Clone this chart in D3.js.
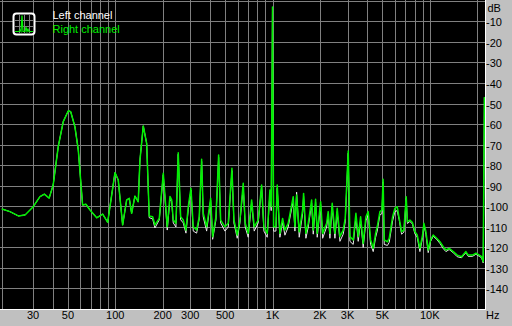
<!DOCTYPE html>
<html><head><meta charset="utf-8">
<script src="https://cdn.jsdelivr.net/npm/d3@7"></script>
<style>html,body{margin:0;padding:0;background:#c0c0c0;overflow:hidden}</style>
</head><body><svg id="c" width="512" height="326"></svg>
<script>
// ---- data ----
const freqs = [19.0,21.4,24.2,26.7,30.1,33.2,35.4,38.0,40.3,43.4,
46.7,50.3,52.1,55.4,58.2,62.0,65.1,69.1,76.2,83.2,
89.5,94.9,99.6,104.5,111.4,118.2,122.8,127.1,133.4,140.0,
143.6,150.7,158.4,164.5,172.9,178.8,190.5,202.0,214.1,222.7,
228.4,233.8,243.2,251.5,260.5,270.6,281.6,291.2,302.9,313.3,
329.3,342.0,354.2,362.6,381.2,404.2,416.2,436.8,454.3,467.8,
498.3,523.0,552.0,568.4,596.5,620.5,651.2,670.5,700.7,736.4,
764.9,811.1,852.4,881.6,925.4,962.7,981,1000,1016,1051,
1071,1114,1159,1199,1258,1354,1388,1423,1478,1554,
1576,1630,1687,1773,1815,1879,1924,2023,2083,2208,
2260,2317,2396,2493,2578,2682,2815,2899,3029,3105,
3259,3390,3506,3632,3772,3925,4059,4204,4368,4524,
4631,4818,4961,5049,5131,5378,5520,5802,5999,6205,
6389,6617,6844,7079,7204,7472,7751,8040,8315,8651,
9000,9173,9446,9768,10120,10510,11050,11600,12170,12660,
13280,14090,14940,15930,16970,17540,18710,19640,20620,21350,
21860,22250];

const rightDb = [-101.2,-102.5,-104.6,-104.1,-100.1,-95.2,-94.0,-95.9,-89.5,-70.8,
-58.6,-53.3,-53.8,-61.1,-72.4,-99.3,-98.9,-101.7,-105.5,-103.7,
-107.7,-94.4,-83.5,-87.1,-109.0,-96.8,-96.0,-103.3,-94.9,-97.7,
-77.3,-60.7,-69.2,-104.6,-105.0,-109.0,-105.8,-83.8,-109.9,-95.1,
-96.8,-106.6,-108.2,-73.8,-105.0,-106.6,-111.5,-100.1,-91.1,-109.9,
-111.5,-105.0,-77.0,-103.3,-109.9,-96.0,-114.7,-105.0,-74.9,-106.6,
-109.9,-108.2,-81.4,-106.6,-113.9,-106.6,-88.7,-108.2,-113.1,-96.8,
-109.9,-106.6,-89.5,-109.9,-113.1,-92.0,-100.0,-2.7,-109.9,-109.9,
-89.5,-113.1,-105.8,-111.5,-108.2,-95.2,-109.9,-94.4,-112.3,-101.7,
-93.6,-113.1,-108.2,-96.8,-111.5,-96.5,-113.1,-97.7,-113.1,-108.2,
-102.5,-113.1,-98.4,-113.1,-100.9,-114.7,-111.5,-105.8,-72.9,-114.7,
-116.3,-103.3,-114.7,-105.0,-118.0,-105.0,-102.5,-116.3,-120.4,-113.1,
-109.9,-102.5,-101.7,-86.7,-116.3,-117.2,-115.5,-105.0,-100.9,-100.1,
-105.8,-112.3,-111.5,-95.2,-107.4,-106.6,-107.8,-112.3,-113.9,-120.4,
-113.9,-108.2,-112.3,-121.2,-116.3,-113.9,-115.5,-117.2,-119.6,-121.2,
-120.4,-122.0,-123.7,-124.5,-122.0,-123.7,-123.7,-122.8,-123.7,-124.5,
-126.9,-46.6];

const leftDb = [-101.2,-102.5,-104.6,-104.1,-100.1,-95.2,-94.0,-95.9,-89.5,-70.8,
-58.6,-53.3,-53.8,-61.1,-72.4,-99.3,-98.9,-101.7,-105.5,-103.7,
-107.7,-94.4,-83.5,-87.1,-109.0,-96.8,-96.0,-103.3,-94.9,-97.7,
-77.3,-60.7,-69.2,-105.5,-106.0,-110.5,-106.5,-84.5,-111.5,-96.5,
-97.5,-108.0,-110.0,-74.5,-106.5,-108.0,-113.0,-101.5,-92.0,-112.0,
-113.0,-106.0,-78.0,-105.0,-112.0,-97.0,-116.0,-106.5,-76.0,-108.0,
-112.0,-110.0,-82.5,-108.0,-115.5,-108.0,-90.0,-110.0,-115.0,-98.0,
-112.0,-108.0,-90.5,-112.0,-115.0,-93.0,-102.0,-3.0,-112.0,-112.0,
-91.0,-115.0,-107.5,-114.0,-110.0,-97.0,-112.0,-93.0,-115.0,-103.5,
-95.0,-115.5,-110.0,-98.5,-113.5,-98.0,-115.0,-99.0,-115.5,-110.0,
-104.0,-115.5,-100.0,-115.5,-102.5,-117.0,-113.5,-107.5,-74.0,-117.0,
-118.5,-105.0,-117.0,-107.0,-120.0,-107.0,-104.0,-118.5,-122.0,-115.0,
-112.0,-104.0,-103.5,-88.0,-118.5,-119.0,-117.5,-107.0,-102.5,-102.0,
-106.5,-113.5,-112.5,-96.0,-108.3,-107.3,-108.5,-113.3,-115.0,-122.0,
-115.0,-109.0,-113.5,-122.5,-117.0,-114.5,-116.0,-118.0,-120.5,-122.0,
-121.0,-122.5,-124.5,-125.0,-122.5,-124.3,-124.3,-123.3,-124.3,-125.0,
-127.5,-47.0];

const seriesNames = ["Left channel", "Right channel"];
const seriesColors = ["#e6e6e6", "#00f000"];
const gridFreqs = [30,40,50,60,70,80,90,100,200,300,400,500,600,700,800,900,
  1000,2000,3000,4000,5000,6000,7000,8000,9000,10000,20000];
const tickFreqs = [30,50,100,200,300,500,1000,2000,3000,5000,10000];
const tickLabels = ["30","50","100","200","300","500","1K","2K","3K","5K","10K"];
const dbGrid = [0,-10,-20,-30,-40,-50,-60,-70,-80,-90,-100,-110,-120,-130,-140];
const dbTicks = [-10,-20,-30,-40,-50,-60,-70,-80,-90,-100,-110,-120,-130,-140];

// ---- drawing ----
const W = 512, H = 326;
const PW = 485, PH = 309;
const svg = d3.select("#c");
const FONT = "'Liberation Sans', Arial, sans-serif";

const x = d3.scaleLog().domain([19.05, 22440]).range([2, PW]);
const y = d3.scaleLinear().domain([0, -150]).range([1.5, PH]);

svg.append("rect").attr("width", W).attr("height", H).attr("fill", "#c0c0c0");
svg.append("rect").attr("x", 0).attr("y", 0).attr("width", PW).attr("height", PH).attr("fill", "#000");

const grid = svg.append("g").attr("stroke", "#808080").attr("stroke-width", 1);
grid.selectAll("line.v").data(gridFreqs).join("line").attr("class", "v")
  .attr("x1", d => Math.round(x(d)) + 0.5).attr("x2", d => Math.round(x(d)) + 0.5)
  .attr("y1", 0).attr("y2", PH);
grid.selectAll("line.h").data(dbGrid).join("line").attr("class", "h")
  .attr("x1", 0).attr("x2", PW)
  .attr("y1", d => Math.floor(y(d)) + 0.5).attr("y2", d => Math.floor(y(d)) + 0.5);
grid.append("line").attr("x1", 2.5).attr("x2", 2.5).attr("y1", 0).attr("y2", PH);

svg.append("clipPath").attr("id", "pc").append("rect")
  .attr("x", 0).attr("y", 0).attr("width", PW).attr("height", PH);

const line = d3.line().x(d => x(d.f)).y(d => y(d.v));
const series = [leftDb, rightDb].map((vals, i) => ({
  name: seriesNames[i], color: seriesColors[i],
  pts: freqs.map((f, j) => ({f, v: vals[j]}))
}));
svg.append("g").attr("clip-path", "url(#pc)")
  .selectAll("path").data(series).join("path")
  .attr("d", d => line(d.pts))
  .attr("fill", "none")
  .attr("stroke", d => d.color)
  .attr("stroke-width", (d, i) => i === 0 ? 1 : 1.5)
  .attr("stroke-linejoin", "round");

// white border
svg.append("line").attr("x1", PW + 0.5).attr("x2", PW + 0.5).attr("y1", 0).attr("y2", PH + 1)
  .attr("stroke", "#fff");
svg.append("line").attr("x1", 0).attr("x2", PW + 1).attr("y1", PH + 0.5).attr("y2", PH + 0.5)
  .attr("stroke", "#fff");

// x tick labels
svg.append("g").selectAll("text").data(tickFreqs).join("text")
  .attr("x", d => x(d)).attr("y", 319)
  .attr("text-anchor", "middle")
  .attr("font-family", FONT).attr("font-size", 11).attr("fill", "#000")
  .text((d, i) => tickLabels[i]);
svg.append("text").attr("x", 486).attr("y", 319)
  .attr("font-family", FONT).attr("font-size", 11).attr("fill", "#000").text("Hz");

// y tick labels
svg.append("g").selectAll("text").data(dbTicks).join("text")
  .attr("x", 486).attr("y", d => Math.floor(y(d)) + 4.5)
  .attr("font-family", FONT).attr("font-size", 11).attr("fill", "#000")
  .text(d => String(d));
svg.append("text").attr("x", 487.5).attr("y", 11.5)
  .attr("font-family", FONT).attr("font-size", 11).attr("fill", "#000").text("dB");

// legend
const lg = svg.append("g");
lg.append("rect").attr("x", 13.5).attr("y", 13.5).attr("width", 21).attr("height", 21)
  .attr("rx", 3).attr("fill", "#000").attr("stroke", "#fff").attr("stroke-width", 2);
const ig = lg.append("g").attr("stroke", "#808080").attr("stroke-width", 1);
[19.5, 24.5, 29.5].forEach(v => ig.append("line").attr("x1", v).attr("x2", v).attr("y1", 15).attr("y2", 33));
[20.5, 26.5].forEach(v => ig.append("line").attr("x1", 15).attr("x2", 33).attr("y1", v).attr("y2", v));
lg.append("path")
  .attr("d", "M15,31.5 L19,31.5 L20,30 L21,31.5 L22,15.5 L23,31.5 L25,31.5 L26,27 L27,31.5 L28,29 L29,31.5 L33,31.5")
  .attr("fill", "none").attr("stroke", "#00f000").attr("stroke-width", 1.2);
lg.selectAll("text").data(series).join("text")
  .attr("x", 52.5).attr("y", (d, i) => 19 + i * 14)
  .attr("font-family", FONT).attr("font-size", 11)
  .attr("fill", (d, i) => i === 0 ? "#fff" : "#00f000")
  .text(d => d.name);
</script>
</body></html>
